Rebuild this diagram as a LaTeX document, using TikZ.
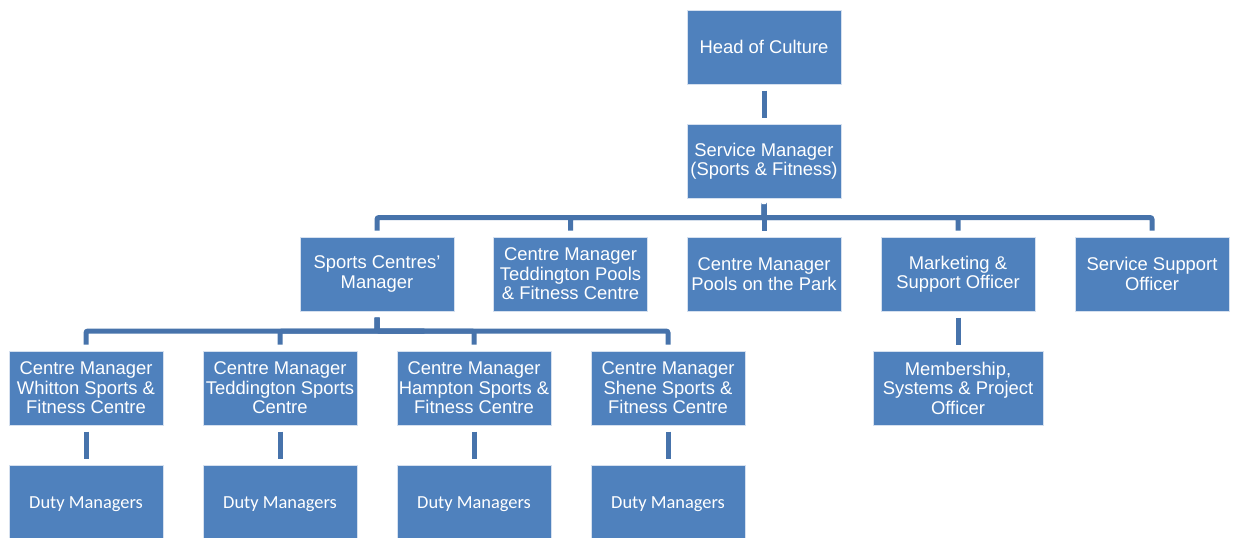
\documentclass[tikz,border=0pt]{standalone}
\usepackage{fontspec}
\setmainfont{Liberation Sans}
\newfontfamily\calfont{Carlito}
\usetikzlibrary{positioning,calc}
\definecolor{boxblue}{HTML}{4F81BD}
\definecolor{connblue}{HTML}{4773AB}
\definecolor{edgeblue}{HTML}{D5E0EF}
\tikzset{
  orgbox/.style={draw=edgeblue, line width=1pt, fill=boxblue, text=white,
    minimum width=154pt, minimum height=74pt, inner sep=0pt, align=center,
    font=\fontsize{18.4}{19.5}\selectfont},
  dutybox/.style={orgbox, minimum height=78pt, font=\calfont\fontsize{18.4}{19.5}\selectfont},
  conn/.style={draw=connblue, line width=5pt, shorten <=6pt, shorten >=6pt, rounded corners=2pt},
}
\begin{document}
\begin{tikzpicture}[x=1pt,y=-1pt]
\useasboundingbox (0,0) rectangle (1235,538);
% row 0,1
\node[orgbox] (head) at (764,47) {Head of Culture};
\node[orgbox] (svc) at (764,161) {Service Manager\\(Sports \& Fitness)};
% row 2
\node[orgbox] (scm) at (377,274) {Sports Centres’\\Manager};
\node[orgbox] (tpool) at (570.5,274) {Centre Manager\\Teddington Pools\\\& Fitness Centre};
\node[orgbox] (potp) at (764,274) {Centre Manager\\Pools on the Park};
\node[orgbox] (mkt) at (958,274) {Marketing \&\\Support Officer};
\node[orgbox] (sso) at (1152,274) {Service Support\\Officer};
% row 3
\node[orgbox] (whit) at (86,388) {Centre Manager\\Whitton Sports \&\\Fitness Centre};
\node[orgbox] (tsp) at (280,388) {Centre Manager\\Teddington Sports\\Centre};
\node[orgbox] (hamp) at (474,388) {Centre Manager\\Hampton Sports \&\\Fitness Centre};
\node[orgbox] (shen) at (668,388) {Centre Manager\\Shene Sports \&\\Fitness Centre};
\node[orgbox, minimum width=170pt] (memb) at (958,388) {Membership,\\Systems \& Project\\Officer};
% row 4
\node[dutybox] (d1) at (86,504) {Duty Managers};
\node[dutybox] (d2) at (280,504) {Duty Managers};
\node[dutybox] (d3) at (474,504) {Duty Managers};
\node[dutybox] (d4) at (668,504) {Duty Managers};
% connectors
\draw[conn] (head.south) -- (svc.north);
\coordinate (bar1) at ($(svc.south)!.5!(potp.north)$);
\foreach \c in {scm,tpool,potp,mkt,sso}
  \draw[conn] (svc.south) |- (bar1) -| (\c.north);
\coordinate (bar2) at ($(scm.south)!.5!(hamp.north)$);
\foreach \c in {whit,tsp,hamp,shen}
  \draw[conn] (scm.south) |- (bar2) -| (\c.north);
\draw[conn] (mkt.south) -- (memb.north);
\draw[conn] (whit.south) -- (d1.north);
\draw[conn] (tsp.south) -- (d2.north);
\draw[conn] (hamp.south) -- (d3.north);
\draw[conn] (shen.south) -- (d4.north);
\end{tikzpicture}
\end{document}
